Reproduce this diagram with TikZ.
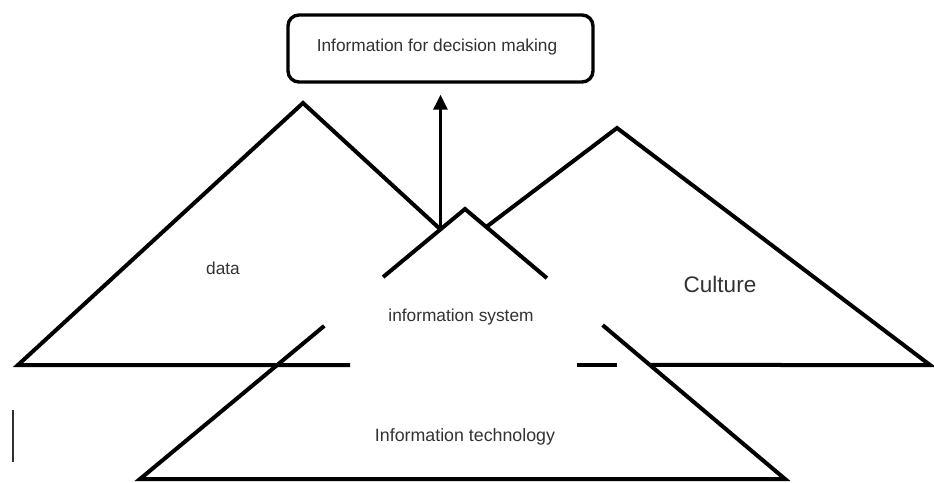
\documentclass[tikz,border=0pt]{standalone}
\usepackage{fontspec}
\setmainfont{Liberation Sans}
\usetikzlibrary{calc,arrows.meta}
\definecolor{inkgray}{RGB}{50,50,50}
\tikzset{
  edge/.style={line width=4pt,line join=miter,line cap=butt},
  lbl/.style={text=inkgray,inner sep=0pt,font=\fontsize{17.3}{20}\selectfont},
  headbox/.style={draw,line width=3.4pt,rounded corners=11pt,minimum width=305pt,minimum height=67pt,inner sep=0pt},
}
\begin{document}
\begin{tikzpicture}[x=1pt,y=-1pt]
\useasboundingbox[fill=white] (0,0) rectangle (934,482);

% triangle corners
\coordinate (L1) at (18,365);  \coordinate (L2) at (303,103); \coordinate (L3) at (588,365);
\coordinate (R1) at (304,365); \coordinate (R2) at (617,128); \coordinate (R3) at (930,365);
\coordinate (B1) at (140,479); \coordinate (B2) at (465,209); \coordinate (B3) at (785,479);

% where the outer triangles run under the lower one
\coordinate (iL) at (intersection of L2--L3 and B2--B1);
\coordinate (iR) at (intersection of R2--R1 and B2--B3);
\coordinate (iRb) at (intersection of R1--R3 and B2--B3);

% left triangle (data)
\draw[edge] (iL) -- (L2) -- (L1) -- (350,365);
% right triangle (culture)
\draw[edge] (iR) -- (R2) -- (R3) -- (iRb);
\draw[edge] (577,365) -- (617,365);

% lower triangle (information technology / information system)
\draw[edge] ($(B2)!0.252!(B1)$) -- (B2) -- ($(B2)!0.256!(B3)$);
\draw[edge] ($(B2)!0.433!(B1)$) -- (B1) -- (B3) -- ($(B2)!0.43!(B3)$);

% decision box and arrow
\node[headbox] (box) at (440.5,48.5) {};
\node[lbl] (boxtext) at (437,47) {Information for decision making};
\draw[line width=3.2pt,-{Triangle[length=15pt,width=14pt]},shorten >=11pt] (iL) -- (iL |- box.south);

% labels
\node[lbl] (data) at (223,268) {data};
\node[lbl,font=\fontsize{22.5}{26}\selectfont] (culture) at (720,284) {Culture};
\node[lbl] (infosys) at (461,317) {information system};
\node[lbl,font=\fontsize{17.8}{20}\selectfont] (infotech) at (465,437) {Information technology};

% small mark at the lower left
\draw[line width=1.6pt,inkgray] (13,410) -- (13,462);
\end{tikzpicture}
\end{document}
